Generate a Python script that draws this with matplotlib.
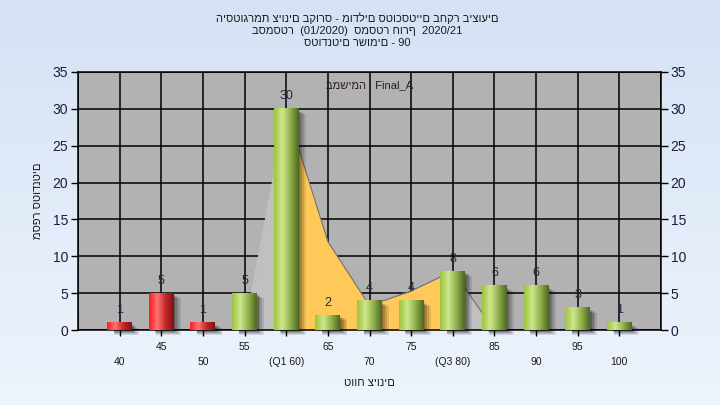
import numpy as np
import matplotlib
matplotlib.use('Agg')
import matplotlib.pyplot as plt
from matplotlib.colors import LinearSegmentedColormap
from matplotlib.patches import Rectangle
import matplotlib.transforms as mtransforms

plt.rcParams['font.family'] = ['Liberation Sans', 'DejaVu Sans']

# data
grades = [40, 45, 50, 55, 60, 65, 70, 75, 80, 85, 90, 95, 100]
tick_labels = ['40', '45', '50', '55', '(Q1 60)', '65', '70', '75', '(Q3 80)', '85', '90', '95', '100']
counts = [1, 5, 1, 5, 30, 2, 4, 4, 8, 6, 6, 3, 1]
fail_limit = 55  # bars below this are red

# background area series (index positions 3..9 -> grades 55..85)
area_idx = [3, 4, 5, 6, 7, 8, 9]
area_vals = [0, 30, 12, 3.3, 5.3, 8, 0]

title_lines = ['היסטוגרמת ציונים בקורס - מודלים סטוכסטיים בחקר ביצועים',
               'בסמסטר  (01/2020)  סמסטר חורף  2020/21',
               'סטודנטים רשומים - 90']
task_text = 'במשימה : Final_A'
x_title = 'טווח ציונים'
y_title = 'מספר סטודנטים'

fig = plt.figure(figsize=(7.2, 4.05), dpi=100)

# light blue gradient background
bg = fig.add_axes([0, 0, 1, 1], zorder=-10)
bg.imshow(np.linspace(0, 1, 100).reshape(-1, 1), aspect='auto',
          cmap=LinearSegmentedColormap.from_list('bg', ['#d5e2f4', '#eef4fc']),
          extent=[0, 1, 0, 1])
bg.axis('off')

ax = fig.add_axes([78/720, 1-330/405, 583/720, 258/405])
ax.set_facecolor('#b2b2b2')

x = np.arange(len(grades))

# area behind the bars: gray outside the quartiles, yellow between them
ai = np.array(area_idx, dtype=float)
av = np.array(area_vals, dtype=float)
q1 = grades.index(60)
q3 = grades.index(80)
ax.fill_between(ai, 0, av, where=(ai <= q1), color='#c0c0c0', zorder=1, lw=0)
ax.fill_between(ai, 0, av, where=(ai >= q3), color='#c0c0c0', zorder=1, lw=0)
ax.fill_between(ai, 0, av, where=(ai >= q1) & (ai <= q3), color='#ffc95a', zorder=1.5, lw=0)
ax.plot(ai[:2], av[:2], color='#c4c4c4', lw=0.8, zorder=1.6)
ax.plot(ai[1:], av[1:], color='#707070', lw=0.8, zorder=1.6)

green = LinearSegmentedColormap.from_list('g', ['#9cc63e', '#cfe68c', '#8fb04a', '#4d6722'])
red = LinearSegmentedColormap.from_list('r', ['#ff1c1c', '#ff7272', '#c42626', '#7e1414'])
grad = np.linspace(0, 1, 64).reshape(1, -1)
w = 0.6
for i in range(len(grades)):
    h = counts[i]
    # soft drop shadow
    for k, a in enumerate([0.10, 0.13, 0.16, 0.2]):
        off = mtransforms.offset_copy(ax.transData, fig=fig, x=7 - k, y=-5 + k, units='dots')
        ax.add_patch(Rectangle((x[i] - w/2 + 0.02*k, 0), w - 0.04*k, h, transform=off,
                               color='black', alpha=a, lw=0, zorder=2, clip_on=False))
    cmap = red if grades[i] < fail_limit else green
    ax.imshow(grad, aspect='auto', cmap=cmap, extent=[x[i] - w/2, x[i] + w/2, 0, h],
              zorder=3, interpolation='bilinear')
    ax.annotate(str(h), (x[i], h), xytext=(0, 9), textcoords='offset points',
                ha='center', va='center', fontsize=9, color='#262840', zorder=5)

ax.set_xlim(-1, len(grades))
ax.set_ylim(0, 35)

# grid on every category and every 5 counts
for gx in range(-1, len(grades) + 1):
    ax.axvline(gx, color='black', lw=1.1, zorder=0.5)
for gy in range(0, 36, 5):
    ax.axhline(gy, color='black', lw=1.1, zorder=0.5)

ax.set_xticks(x)
ax.set_xticklabels([t if i % 2 == 1 else '\n' + t for i, t in enumerate(tick_labels)],
                   fontsize=7.5, color='#1a1a1a')
for lbl in ax.get_xticklabels():
    lbl.set_linespacing(1.6)
ax.tick_params(axis='x', length=4, width=1, pad=5)
ax.set_yticks(range(0, 36, 5))
ax.tick_params(axis='y', labelsize=10, length=5, width=1, colors='black',
               labelcolor='#1c1c3c', right=True, labelright=True, pad=2)
for s in ax.spines.values():
    s.set_color('black')
    s.set_linewidth(1.1)

ax.text(0.5, 0.95, task_text, transform=ax.transAxes, ha='center', va='center',
        fontsize=8, color='#2a1a2a')
ax.set_xlabel(x_title, fontsize=8, color='#1a1a1a', labelpad=8)
ax.set_ylabel(y_title, fontsize=8, color='#1a1a1a', labelpad=7)

for j, line in enumerate(title_lines):
    fig.text(0.496, 1 - (18 + 12.5*j)/405, line, ha='center', va='center',
             fontsize=8, color='#1a1a1a')

plt.savefig('out.png', dpi=100)
